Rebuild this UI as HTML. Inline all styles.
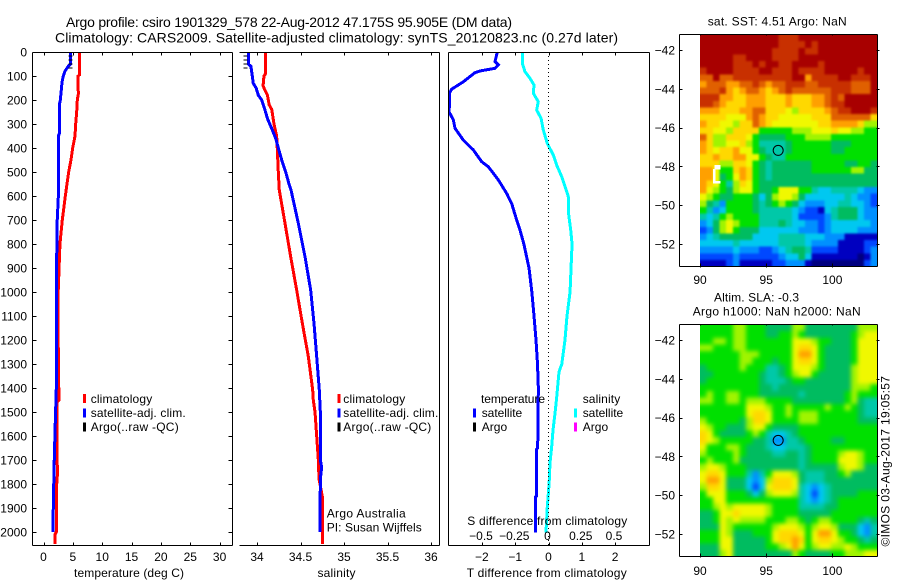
<!DOCTYPE html>
<html lang="en">
<head>
<meta charset="utf-8">
<title>Argo profile csiro 1901329_578</title>
<style>
html,body{margin:0;padding:0;background:#fff;}
svg{display:block;}
text{font-family:"Liberation Sans",sans-serif;font-size:12px;fill:#000;}
.ax{stroke:#000;stroke-width:1;fill:none;shape-rendering:crispEdges;}
</style>
</head>
<body>
<svg id="chart" xmlns="http://www.w3.org/2000/svg" width="900" height="580" viewBox="0 0 900 580">
<rect x="0" y="0" width="900" height="580" fill="#fff"/>
<defs>
<clipPath id="cp1"><rect x="33" y="52" width="199" height="493"/></clipPath>
<clipPath id="cp2"><rect x="239" y="52" width="200" height="493"/></clipPath>
<clipPath id="cp3"><rect x="449" y="52" width="200" height="493"/></clipPath>
<clipPath id="cm1"><rect x="700" y="35" width="177" height="231"/></clipPath>
<clipPath id="cm2"><rect x="700" y="325" width="177" height="231"/></clipPath>
<filter id="soft1" x="-5%" y="-5%" width="110%" height="110%" color-interpolation-filters="sRGB"><feGaussianBlur stdDeviation="1.1"/></filter>
<filter id="soft2" x="-5%" y="-5%" width="110%" height="110%" color-interpolation-filters="sRGB"><feGaussianBlur stdDeviation="2.2"/></filter>
</defs>
<g id="mapLayer"></g>
<rect x="713" y="169" width="2.6" height="14.4" fill="#fff" shape-rendering="crispEdges"/>
<rect x="714.7" y="165" width="6" height="4.3" fill="#fff" shape-rendering="crispEdges"/>
<rect x="713" y="181" width="7.7" height="2.6" fill="#fff" shape-rendering="crispEdges"/>
<g id="lineLayer"></g>
<g id="axisLayer"></g>

<text x="66" y="27" textLength="446" lengthAdjust="spacing" style="font-size:14px">Argo profile: csiro 1901329_578 22-Aug-2012 47.175S 95.905E (DM data)</text>
<text x="55" y="42.5" textLength="563" lengthAdjust="spacing" style="font-size:14px">Climatology: CARS2009. Satellite-adjusted climatology: synTS_20120823.nc (0.27d later)</text>

<text x="74" y="577" textLength="110" lengthAdjust="spacing">temperature (deg C)</text>
<text x="317.5" y="577" textLength="38" lengthAdjust="spacing">salinity</text>
<text x="466.7" y="577" textLength="160" lengthAdjust="spacing">T difference from climatology</text>
<text x="467.3" y="525" textLength="160" lengthAdjust="spacing">S difference from climatology</text>

<g>
<rect x="83" y="394" width="3" height="9" fill="#f00"/>
<text x="90.7" y="403" textLength="61.5" lengthAdjust="spacing">climatology</text>
<rect x="83" y="408.5" width="3" height="9" fill="#00f"/>
<text x="90.7" y="417" textLength="95" lengthAdjust="spacing">satellite-adj. clim.</text>
<rect x="83" y="422.5" width="3" height="9" fill="#000"/>
<text x="90.7" y="431" textLength="88" lengthAdjust="spacing">Argo(..raw -QC)</text>
</g>
<g>
<rect x="337.5" y="394" width="3" height="9" fill="#f00"/>
<text x="343.3" y="403" textLength="62" lengthAdjust="spacing">climatology</text>
<rect x="337.5" y="408.5" width="3" height="9" fill="#00f"/>
<text x="343.3" y="417" textLength="95" lengthAdjust="spacing">satellite-adj. clim.</text>
<rect x="337.5" y="422.5" width="3" height="9" fill="#000"/>
<text x="343.3" y="431" textLength="88" lengthAdjust="spacing">Argo(..raw -QC)</text>
</g>
<text x="326.7" y="517.5" textLength="79" lengthAdjust="spacing">Argo Australia</text>
<text x="326.7" y="531.5" textLength="95" lengthAdjust="spacing">PI: Susan Wijffels</text>
<g>
<text x="481" y="403" textLength="64" lengthAdjust="spacing">temperature</text>
<rect x="473" y="408.5" width="3" height="9" fill="#00f"/>
<text x="481.7" y="417" textLength="40.5" lengthAdjust="spacing">satellite</text>
<rect x="473" y="422.5" width="3" height="9" fill="#000"/>
<text x="481.7" y="431" textLength="25.5" lengthAdjust="spacing">Argo</text>
<text x="582.7" y="403" textLength="37.5" lengthAdjust="spacing">salinity</text>
<rect x="574" y="408.5" width="3" height="9" fill="#0ff"/>
<text x="582.7" y="417" textLength="40.5" lengthAdjust="spacing">satellite</text>
<rect x="574" y="422.5" width="3" height="9" fill="#f0f"/>
<text x="582.7" y="431" textLength="25.5" lengthAdjust="spacing">Argo</text>
</g>

<text x="707.7" y="25.5" textLength="139" lengthAdjust="spacing">sat. SST: 4.51  Argo: NaN</text>
<text x="714" y="301.5" textLength="85" lengthAdjust="spacing">Altim. SLA: -0.3</text>
<text x="692.7" y="315.5" textLength="168" lengthAdjust="spacing">Argo h1000: NaN h2000: NaN</text>
<text transform="translate(889.5,546.5) rotate(-90)" x="0" y="0" textLength="170.5" lengthAdjust="spacing">©IMOS 03-Aug-2017 19:05:57</text>
</svg>

<script>
// ---- profile data (depth in metres, temperature deg C, salinity PSU, differences) ----
var tempClimDepth = [0,95,100,150,170,200,250,300,350,400,450,500,550,600,700,800,900,1000,1200,1400,1450,1460,1700,1750,1800,2000,2010,2050];
var tempClimValue = [6.16,6.16,5.9,5.85,5.97,5.76,5.65,5.48,5.37,4.97,4.68,4.29,4.0,3.72,3.2,2.8,2.65,2.5,2.5,2.6,2.64,2.3,2.3,2.4,2.25,2.18,1.96,1.96];
var tempSatDepth = [0,50,60,80,100,120,140,200,220,340,350,600,720,1000,1400,1550,1730,1960,2000];
var tempSatValue = [4.63,4.63,4.2,3.66,3.37,3.2,3.1,2.87,2.7,2.7,2.53,2.53,2.3,2.2,2.18,2.0,1.8,1.62,1.62];
var tempArgoDepth = [17,33,50,67];
var tempArgoValue = [4.6,4.6,4.6,4.6];

var salClimDepth = [0,90,100,140,150,180,220,240,300,350,400,500,575,714,853,992,1130,1269,1408,1450,1500,1600,1700,1780,1850,2050];
var salClimValue = [34.10,34.10,34.08,34.07,34.08,34.12,34.14,34.17,34.195,34.226,34.233,34.245,34.256,34.322,34.387,34.456,34.521,34.59,34.64,34.647,34.667,34.686,34.705,34.713,34.75,34.75];
var salSatDepth = [0,40,50,60,100,130,150,180,200,240,280,320,360,400,450,500,550,575,714,853,992,1130,1269,1408,1500,1700,1730,1780,2000];
var salSatValue = [33.905,33.905,33.9,33.93,33.946,33.957,33.99,34.015,34.054,34.09,34.123,34.17,34.215,34.245,34.284,34.33,34.368,34.391,34.475,34.552,34.617,34.655,34.686,34.716,34.728,34.728,34.743,34.728,34.724];
var salArgoDepth = [17,33,50,67];
var salArgoValue = [33.87,33.87,33.87,33.87];

var dTDepth = [0,40,54,68,79,86,124,155,172,228,249,283,318,367,408,457,478,533,589,631,700,742,800,900,1000,1100,1200,1300,1400,1650,1655,1850,1855,2003];
var dTValue = [-1.536,-1.607,-1.506,-1.607,-2.057,-2.207,-2.558,-2.908,-2.978,-2.978,-2.988,-2.857,-2.807,-2.558,-2.258,-2.007,-1.807,-1.506,-1.257,-1.107,-0.956,-0.856,-0.74,-0.585,-0.5,-0.435,-0.375,-0.33,-0.305,-0.325,-0.355,-0.355,-0.395,-0.395];
var dSDepth = [0,47,82,110,137,172,207,242,276,325,381,429,471,519,582,603,665,742,800,1000,1100,1200,1300,1333,1442,1505,1575,1644,1714,1783,1839,1894,1950,2003];
var dSValue = [-0.197,-0.197,-0.177,-0.139,-0.109,-0.114,-0.077,-0.089,-0.056,-0.039,-0.009,0.036,0.061,0.099,0.137,0.149,0.149,0.167,0.177,0.162,0.139,0.124,0.10,0.079,0.061,0.049,0.034,0.024,0.011,0.006,-0.001,-0.009,-0.014,-0.019];

// ---- tick labels ----
var depthTicks = [0,100,200,300,400,500,600,700,800,900,1000,1100,1200,1300,1400,1500,1600,1700,1800,1900,2000];
var tempTicks = [0,5,10,15,20,25,30];
var salTicks = [34,34.5,35,35.5,36];
var dTTicks = [-2,-1,0,1,2];
var dSTicks = [-0.5,-0.25,0,0.25,0.5];
var lonTicks = [90,95,100];
var latTicks = [-42,-44,-46,-48,-50,-52];

// ---- profile location ----
var argoLon = 95.905;
var argoLat = -47.175;

// ---- map grids: colour levels 0 (coldest/lowest) to 14 (warmest/highest), 27 columns x 35 rows ----
var sstLevels = [
[14,14,14,14,14,14,14,14,14,14,14,14,13,13,13,14,14,14,14,14,14,14,14,14,14,14,14],
[14,14,14,14,14,14,14,14,14,14,14,14,13,13,13,13,14,13,14,14,14,14,14,14,14,14,14],
[14,14,14,14,14,14,14,14,14,14,14,13,13,13,13,14,13,13,14,14,14,14,14,14,14,14,14],
[14,14,14,14,14,13,13,14,14,14,14,13,13,13,13,14,14,14,14,14,14,14,14,14,14,14,14],
[14,14,14,14,14,13,13,13,14,13,14,14,13,13,14,14,14,14,13,14,14,14,14,14,14,14,14],
[13,14,14,14,14,13,13,13,13,14,14,13,13,13,14,13,13,13,13,14,14,14,14,14,13,14,14],
[12,12,14,12,12,13,13,13,13,13,13,13,13,13,14,14,11,13,13,13,13,14,14,13,13,13,14],
[11,12,12,12,11,11,12,12,13,12,11,12,12,13,13,13,12,12,13,13,13,13,13,12,12,12,14],
[12,12,12,13,11,10,11,12,12,11,10,11,12,13,12,12,12,12,12,12,13,13,13,12,12,12,14],
[13,13,13,11,11,10,10,11,11,11,10,10,10,11,10,10,10,11,11,12,13,12,14,14,14,14,14],
[13,13,12,11,10,10,10,11,11,11,10,10,10,11,10,10,10,11,11,12,13,13,14,14,14,14,14],
[11,11,11,10,10,10,11,11,12,12,10,10,10,9,8,10,10,10,10,11,12,13,13,14,14,14,13],
[10,10,10,10,9,9,9,11,12,11,10,10,9,9,9,9,9,10,10,10,12,12,12,12,12,12,10],
[11,10,10,9,9,8,10,10,12,11,10,9,9,9,9,9,9,9,10,10,11,11,11,11,10,8,8],
[10,10,9,9,8,10,10,10,10,7,7,7,7,7,8,8,8,9,9,9,10,9,9,8,8,7,7],
[12,10,8,8,10,10,10,9,7,6,6,6,6,7,7,7,8,8,8,8,7,7,7,7,7,7,7],
[11,10,8,8,9,9,10,8,7,5,5,5,5,6,7,7,7,7,7,7,6,6,6,7,7,7,7],
[11,10,9,10,10,11,9,9,7,6,5,5,5,6,7,7,7,7,7,7,6,6,7,7,7,7,7],
[10,10,11,10,10,11,11,9,9,7,6,5,5,7,7,7,7,7,7,7,7,7,7,7,7,7,7],
[10,10,10,8,8,10,10,9,7,6,5,6,6,6,6,6,6,7,7,7,7,7,6,6,7,7,6],
[11,11,9,7,7,10,11,10,7,6,5,6,6,6,6,6,6,7,7,7,7,7,7,8,8,6,6],
[11,11,9,6,7,9,11,10,7,6,5,6,6,6,6,6,6,6,6,6,6,6,6,6,6,6,6],
[11,10,9,7,5,8,10,9,7,6,6,6,6,6,6,6,6,6,6,6,6,6,6,6,6,6,6],
[11,9,8,7,6,8,9,9,7,6,6,7,9,9,9,7,7,5,4,4,5,5,5,5,4,3,3],
[9,8,7,6,6,7,7,7,6,4,6,8,9,9,8,6,4,4,4,4,4,4,5,4,3,3,2],
[8,6,5,3,7,7,7,7,6,5,6,7,8,7,6,4,3,3,3,4,4,5,5,4,4,3,2],
[7,5,3,4,7,7,7,7,6,5,5,5,5,5,4,3,2,2,1,4,5,6,6,6,4,3,3],
[5,4,5,7,8,7,7,7,7,5,5,5,5,5,4,2,2,2,2,3,5,6,6,6,4,3,3],
[3,4,6,8,9,8,7,7,7,5,5,5,6,5,4,4,3,3,2,3,4,4,4,4,4,4,3],
[2,3,6,8,9,7,6,6,6,4,4,4,4,4,4,3,3,3,2,3,4,4,4,4,3,3,3],
[3,4,5,6,6,6,6,6,4,4,4,4,5,5,5,5,4,4,4,3,3,3,1,1,1,1,1],
[4,4,4,4,4,5,4,4,4,4,4,4,5,5,5,5,4,3,3,3,3,1,1,1,1,2,2],
[3,3,3,3,3,4,3,3,3,2,2,3,4,5,6,6,5,2,2,2,2,1,1,1,1,2,3],
[2,2,2,2,2,3,2,2,2,2,2,2,3,4,4,6,4,1,1,1,1,1,1,1,0,1,3],
[1,1,1,1,2,3,1,1,1,1,1,2,2,3,3,3,1,0,0,0,0,0,0,0,0,2,3]
];
var slaLevels = [
[7,7,7,7,7,8,8,7,7,7,6,6,6,6,8,8,6,6,6,6,6,6,6,6,8,8,8],
[7,7,7,7,7,8,8,7,7,7,6,6,7,7,8,7,6,6,6,6,6,6,6,7,8,9,9],
[7,7,8,8,7,8,8,7,7,7,7,7,7,7,9,9,9,8,7,7,6,6,6,7,9,9,9],
[8,8,7,7,7,8,8,7,7,7,7,7,7,7,9,10,10,9,7,6,6,6,6,7,9,9,9],
[7,7,7,7,7,7,8,8,8,7,7,7,7,7,9,11,11,9,7,6,6,6,6,7,9,9,9],
[7,7,7,7,7,7,8,8,7,7,7,6,7,7,9,10,10,9,7,6,6,6,6,7,9,9,9],
[6,7,7,7,7,7,8,7,7,7,5,5,6,7,9,9,9,8,7,6,6,6,6,8,9,9,9],
[6,6,7,7,7,7,7,7,7,6,5,5,6,7,8,9,9,7,6,6,6,6,6,8,9,9,9],
[6,7,7,7,7,7,7,7,7,6,5,5,5,6,7,7,6,6,6,6,6,6,6,8,9,9,9],
[7,7,7,7,7,7,7,7,7,6,6,5,6,6,6,6,6,6,6,6,6,6,6,8,8,8,7],
[7,8,7,7,8,8,7,7,7,6,6,6,6,6,6,5,6,6,6,6,6,6,7,8,7,7,7],
[8,8,7,7,8,8,7,8,8,8,7,7,7,7,6,6,6,6,6,6,6,6,7,8,6,5,5],
[7,7,7,7,7,7,7,9,9,9,8,7,7,8,7,7,7,7,7,8,7,7,8,7,6,5,5],
[7,7,7,7,7,7,7,9,10,10,9,7,7,8,7,8,8,8,7,7,7,7,7,7,6,5,5],
[8,7,7,7,7,7,6,8,10,10,9,7,7,7,7,8,8,8,7,7,7,7,7,7,6,6,6],
[9,8,7,7,6,6,6,8,9,9,7,6,6,6,6,7,7,7,7,7,7,7,7,7,7,7,7],
[10,9,7,6,6,6,6,7,8,7,5,4,4,5,6,7,7,7,7,7,7,7,7,7,7,7,7],
[10,9,8,7,7,7,7,7,6,6,5,3,3,5,5,6,7,7,7,7,6,6,7,7,7,7,7],
[9,7,7,7,8,8,7,6,6,6,5,4,4,5,5,5,6,7,7,7,7,7,7,7,7,7,7],
[8,7,7,7,7,8,7,6,6,6,6,5,5,6,6,5,6,7,7,7,7,8,9,9,8,7,7],
[7,8,7,7,7,8,6,6,6,6,6,6,6,6,6,5,6,7,7,7,7,9,9,9,8,7,7],
[8,9,9,8,7,7,7,6,6,6,6,6,6,6,6,5,6,6,6,6,6,8,9,9,8,6,6],
[9,10,10,9,7,7,7,5,3,5,7,9,9,9,8,6,5,5,5,6,6,7,8,6,6,6,6],
[9,11,11,9,6,6,6,4,3,4,8,10,10,10,9,6,5,5,5,6,6,6,6,6,6,6,6],
[8,10,10,9,6,6,6,4,2,4,9,10,10,10,9,5,4,3,4,5,6,6,6,6,6,6,6],
[7,9,9,9,7,7,7,6,4,6,8,9,9,9,8,5,4,2,4,5,6,6,6,6,7,7,7],
[7,7,9,9,7,7,7,7,7,7,7,7,7,7,7,5,4,3,4,5,6,7,7,7,7,7,7],
[7,7,8,9,8,9,9,9,9,9,8,7,7,7,7,5,5,5,5,6,6,7,7,7,7,7,7],
[6,6,7,9,9,10,9,9,9,9,8,7,7,7,7,6,6,6,6,6,7,7,7,7,7,7,7],
[6,6,7,9,8,9,8,8,8,8,7,7,7,8,8,7,6,7,8,8,7,7,7,7,6,5,6],
[6,6,6,9,8,7,7,7,7,7,7,8,9,9,9,8,7,8,9,9,8,6,6,6,4,3,5],
[7,7,7,9,8,6,6,6,7,7,7,9,10,10,10,9,7,9,11,11,9,7,7,6,4,3,5],
[7,7,7,9,9,6,6,6,6,6,7,9,10,10,11,10,7,9,10,10,9,8,7,7,6,5,6],
[6,6,6,9,9,6,6,6,6,6,7,7,8,9,11,9,7,8,9,9,8,8,9,8,7,7,7],
[6,6,6,8,9,6,6,6,6,6,6,6,6,6,8,7,6,6,6,6,7,7,8,8,8,9,9]
];
var levelColors = ["#000080","#0000c0","#0048ff","#0090ff","#00c8f0","#00c8a8","#00bc60","#00e000","#a0f400","#f0f800","#ffd800","#ffa000","#e06000","#c83000","#a80000"];

// ---- axis functions ----
function yDepth(d){return 52+0.24*d;}
function xTemp(v){return 43.5+5.87*v;}
function xSal(v){return 257+87*(v-34);}
function xDT(v){return 548.5+33.3*v;}
function xDS(v){return 548.5+133*v;}
function xLon(v){return 700+13.24*(v-90);}
function yLat1(v){return 50+19.4*(-42-v);}
function yLat2(v){return 340+19.4*(-42-v);}

var NS = "http://www.w3.org/2000/svg";
var lineLayer = document.getElementById("lineLayer");
var axisLayer = document.getElementById("axisLayer");
var mapLayer = document.getElementById("mapLayer");

function make(tag, attrs, parent){
  var el = document.createElementNS(NS, tag);
  for (var k in attrs) { el.setAttribute(k, attrs[k]); }
  parent.appendChild(el);
  return el;
}
function drawProfile(depths, values, xf, color, clip, name){
  var pts = [];
  for (var i = 0; i < depths.length; i++) {
    pts.push(xf(values[i]).toFixed(2) + "," + yDepth(depths[i]).toFixed(2));
  }
  var el = make("polyline", {points: pts.join(" "), fill: "none", stroke: color, "stroke-width": 3, "clip-path": "url(#" + clip + ")", "shape-rendering": "crispEdges"}, lineLayer);
  
  
}
function drawArgoTicks(depths, values, xf, clip, name){
  for (var i = 0; i < depths.length; i++) {
    var x = xf(values[i]), y = yDepth(depths[i]);
    var el = make("line", {x1: x - 2, x2: x + 2, y1: y, y2: y, stroke: "#000", "stroke-width": 1, "clip-path": "url(#" + clip + ")", "shape-rendering": "crispEdges"}, lineLayer);
    
    
  }
}
function axisLine(x1, y1, x2, y2, name){
  var el = make("line", {x1: x1, y1: y1, x2: x2, y2: y2, "class": "ax"}, axisLayer);
  
  
}
function label(x, y, str, anchor, name){
  var el = make("text", {x: x, y: y, "text-anchor": anchor}, axisLayer);
  el.textContent = str;
  
  
}
function fmt(v){return String(v).replace("-", "\u2212");}

// ---- heatmaps (one rect per grid value, softened to match the fine source grid;
//      edge cells repeat outward so the softening does not fade at the map borders) ----
function drawMap(levels, originY, clip, filterId, name){
  var cw = 6.56, ch = 6.63;
  var outer = make("g", {"clip-path": "url(#" + clip + ")"}, mapLayer);
  
  
  var g = make("g", {filter: "url(#" + filterId + ")", "shape-rendering": "crispEdges"}, outer);
  
  
  var rows = levels.length, cols = levels[0].length;
  for (var r = -2; r < rows + 2; r++) {
    for (var c = -2; c < cols + 2; c++) {
      var rr = Math.max(0, Math.min(rows - 1, r));
      var cc = Math.max(0, Math.min(cols - 1, c));
      var cell = make("rect", {x: (700 + c * cw).toFixed(2), y: (originY + r * ch).toFixed(2), width: cw + 0.2, height: ch + 0.2, fill: levelColors[levels[rr][cc]]}, g);
      
      
    }
  }
}
drawMap(sstLevels, 34.5, "cm1", "soft1", "sst-heatmap");
drawMap(slaLevels, 324.5, "cm2", "soft2", "sla-heatmap");

// ---- profile lines ----
drawProfile(tempClimDepth, tempClimValue, xTemp, "#f00", "cp1", "temperature-climatology-line");
drawProfile(tempSatDepth, tempSatValue, xTemp, "#00f", "cp1", "temperature-satellite-line");
drawArgoTicks(tempArgoDepth, tempArgoValue, xTemp, "cp1", "temperature-argo-mark");
drawProfile(salClimDepth, salClimValue, xSal, "#f00", "cp2", "salinity-climatology-line");
drawProfile(salSatDepth, salSatValue, xSal, "#00f", "cp2", "salinity-satellite-line");
drawArgoTicks(salArgoDepth, salArgoValue, xSal, "cp2", "salinity-argo-mark");
drawProfile(dTDepth, dTValue, xDT, "#00f", "cp3", "t-difference-satellite-line");
drawProfile(dSDepth, dSValue, xDS, "#0ff", "cp3", "s-difference-satellite-line");

var zeroLine = make("line", {x1: xDT(0), x2: xDT(0), y1: 52, y2: 545, stroke: "#000", "stroke-width": 1, "stroke-dasharray": "1 3", "shape-rendering": "crispEdges"}, lineLayer);



// ---- axes: profile panels ----
var panelTop = 52.5, panelBot = 545.5;
axisLine(32.5, panelTop, 232.5, panelTop, "temperature-top-axis");
axisLine(32.5, panelBot, 232.5, panelBot, "temperature-bottom-axis");
axisLine(32.5, panelTop, 32.5, panelBot, "depth-axis");
axisLine(232.5, panelTop, 232.5, panelBot, "temperature-right-axis");
axisLine(239.5, panelTop, 439.5, panelTop, "salinity-top-axis");
axisLine(239.5, panelBot, 439.5, panelBot, "salinity-bottom-axis");
axisLine(439.5, panelTop, 439.5, panelBot, "salinity-right-axis");
axisLine(448.5, panelTop, 649.5, panelTop, "difference-top-axis");
axisLine(448.5, panelBot, 649.5, panelBot, "difference-bottom-axis");
axisLine(448.5, panelTop, 448.5, panelBot, "difference-left-axis");
axisLine(649.5, panelTop, 649.5, panelBot, "difference-right-axis");

depthTicks.forEach(function(d){
  var y = Math.round(yDepth(d)) + 0.5;
  axisLine(32.5, y, 36.5, y, "depth-tick");
  axisLine(228.5, y, 232.5, y, "depth-tick-right");
  label(27, yDepth(d) + 4.5, String(d), "end", "depth-tick-label");
});
tempTicks.forEach(function(v){
  var x = Math.round(xTemp(v)) + 0.5;
  axisLine(x, panelTop, x, panelTop + 3, "temperature-tick-top");
  axisLine(x, panelBot - 3, x, panelBot, "temperature-tick");
  label(xTemp(v), 561, String(v), "middle", "temperature-tick-label");
});
salTicks.forEach(function(v){
  var x = Math.round(xSal(v)) + 0.5;
  axisLine(x, panelTop, x, panelTop + 3, "salinity-tick-top");
  axisLine(x, panelBot - 3, x, panelBot, "salinity-tick");
  label(xSal(v), 561, String(v), "middle", "salinity-tick-label");
});
dTTicks.forEach(function(v){
  var x = Math.round(xDT(v)) + 0.5;
  axisLine(x, panelTop, x, panelTop + 3, "t-difference-tick-top");
  axisLine(x, panelBot - 3, x, panelBot, "t-difference-tick");
  label(xDT(v), 561, fmt(v), "middle", "t-difference-tick-label");
});
dSTicks.forEach(function(v){
  label(xDS(v) - 1, 540, fmt(v), "middle", "s-difference-tick-label");
});

// ---- axes: maps ----
function drawMapAxes(t, b, yf, prefix, labelY){
  axisLine(679.5, t, 877.5, t, prefix + "-top-axis");
  axisLine(679.5, b, 877.5, b, prefix + "-bottom-axis");
  axisLine(679.5, t, 679.5, b, prefix + "-left-axis");
  axisLine(877.5, t, 877.5, b, prefix + "-right-axis");
  latTicks.forEach(function(v){
    var y = Math.round(yf(v)) + 0.5;
    axisLine(679.5, y, 682.5, y, prefix + "-lat-tick");
    axisLine(876.5, y, 879.5, y, prefix + "-lat-tick-right");
    label(675, yf(v) + 4.5, fmt(v), "end", prefix + "-lat-label");
  });
  lonTicks.forEach(function(v){
    var x = Math.round(xLon(v)) + 0.5;
    axisLine(x, b - 3, x, b + 1, prefix + "-lon-tick");
    axisLine(x, t, x, t + 1, prefix + "-lon-tick-top");
    label(xLon(v), labelY, String(v), "middle", prefix + "-lon-label");
  });
}
drawMapAxes(34.5, 266.5, yLat1, "sst-map", 284);
drawMapAxes(324.5, 556.5, yLat2, "sla-map", 575);

// ---- profile position markers ----
[yLat1, yLat2].forEach(function(yf, i){
  var m = make("circle", {cx: xLon(argoLon), cy: yf(argoLat), r: 5, fill: "none", stroke: "#000", "stroke-width": 1}, axisLayer);
  
  
});
</script>
</body>
</html>
